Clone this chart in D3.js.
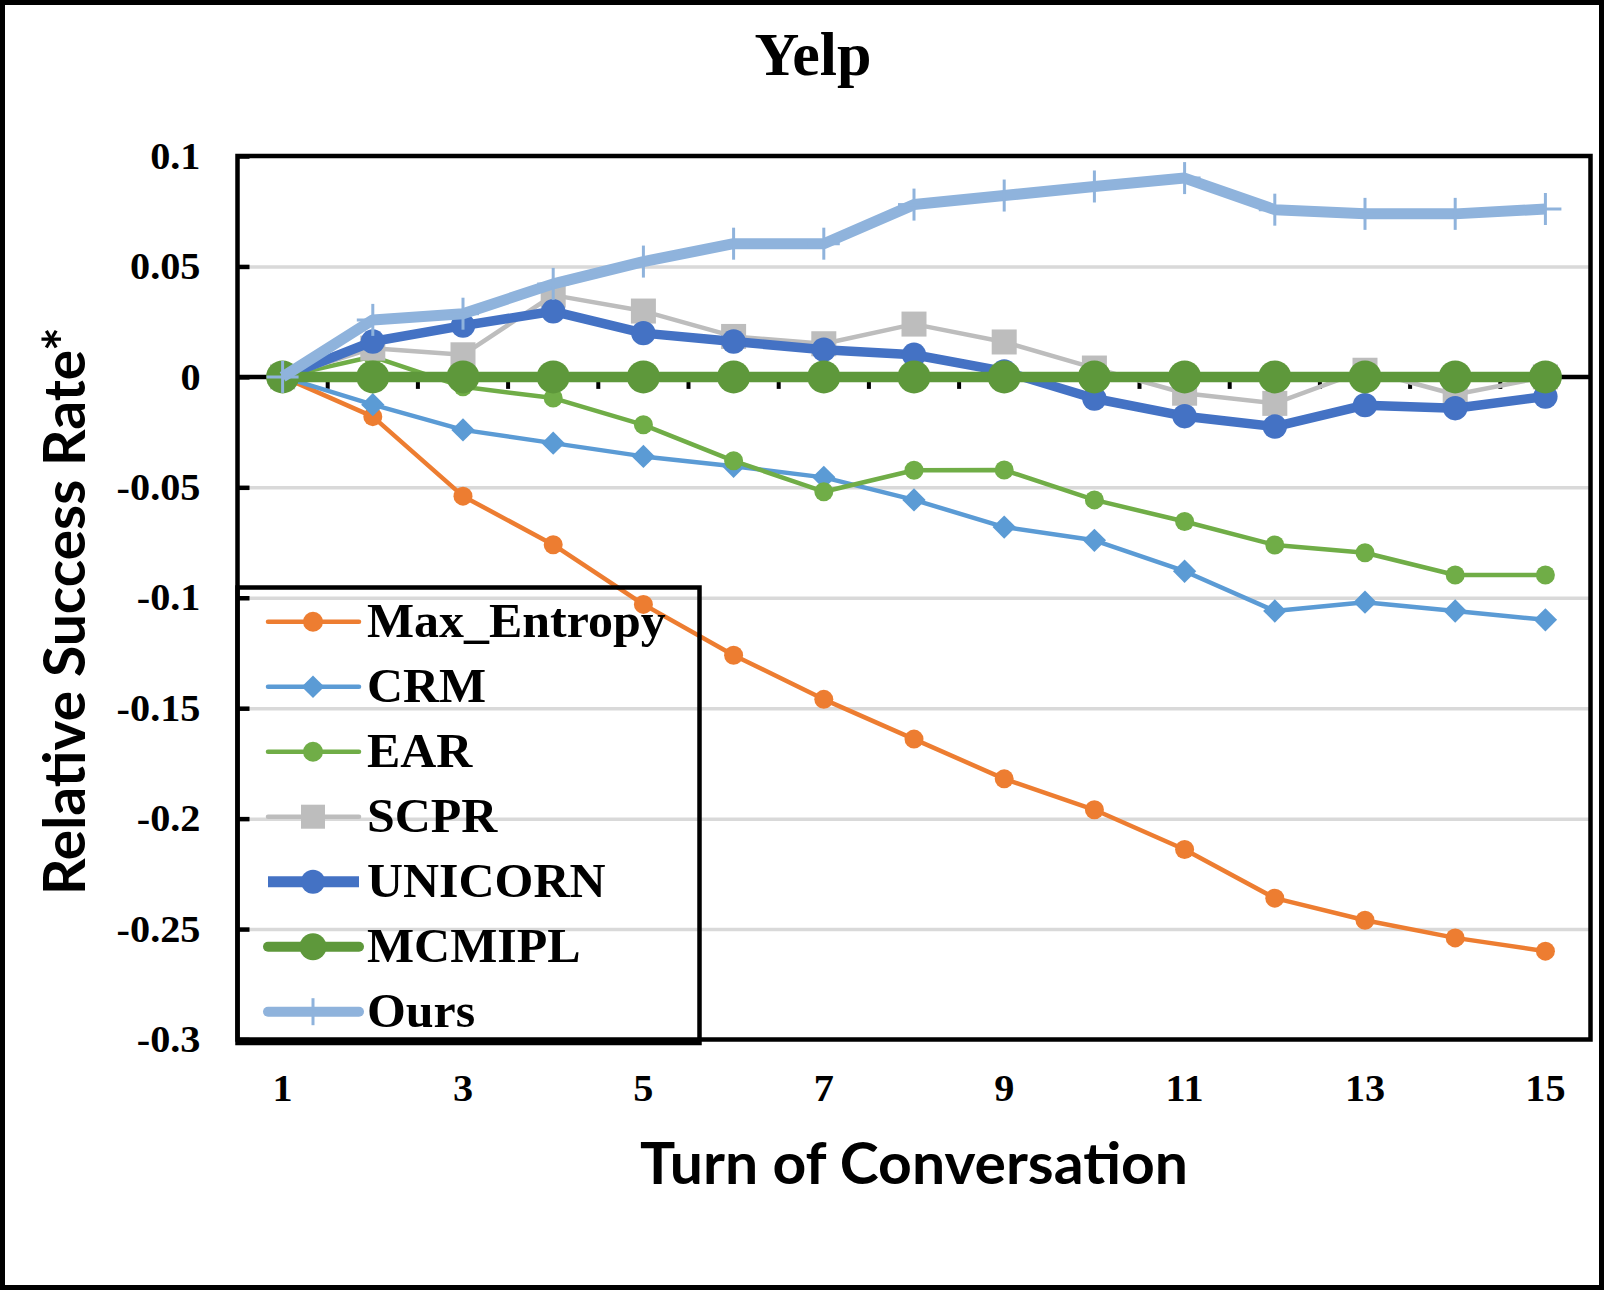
<!DOCTYPE html>
<html>
<head>
<meta charset="utf-8">
<script src="https://cdn.jsdelivr.net/npm/d3@7"></script>
<style>
  body { margin: 0; background: #fff; }
  svg { display: block; }
</style>
</head>
<body>
<div id="chart"></div>
<script>
// chart data
const turns = [1, 2, 3, 4, 5, 6, 7, 8, 9, 10, 11, 12, 13, 14, 15];
const shownTurns = [1, 3, 5, 7, 9, 11, 13, 15];
const yTicks = [0.1, 0.05, 0, -0.05, -0.1, -0.15, -0.2, -0.25, -0.3];
const gridTicks = [0.05, -0.05, -0.1, -0.15, -0.2, -0.25];

const maxEntropy = [0, -0.018, -0.054, -0.076, -0.103, -0.126, -0.146, -0.164, -0.182, -0.196, -0.214, -0.236, -0.246, -0.254, -0.26];
const crm        = [0, -0.0126, -0.024, -0.030, -0.036, -0.0405, -0.0455, -0.0557, -0.068, -0.074, -0.088, -0.106, -0.102, -0.106, -0.110];
const ear        = [0, 0.0092, -0.0045, -0.0096, -0.0217, -0.038, -0.052, -0.0423, -0.0422, -0.0557, -0.0655, -0.0761, -0.0796, -0.0897, -0.0897];
const scpr       = [0, 0.013, 0.010, 0.037, 0.0298, 0.0183, 0.015, 0.0239, 0.0158, 0.004, -0.0074, -0.012, 0.003, -0.008, 0];
const unicorn    = [0, 0.016, 0.0232, 0.0297, 0.0198, 0.016, 0.0123, 0.010, 0.0025, -0.0098, -0.0178, -0.0225, -0.0128, -0.0142, -0.0089];
const mcmipl     = [0, 0, 0, 0, 0, 0, 0, 0, 0, 0, 0, 0, 0, 0, 0];
const ours       = [0, 0.0258, 0.0286, 0.0421, 0.0522, 0.0603, 0.0603, 0.078, 0.0821, 0.0862, 0.090, 0.0757, 0.0738, 0.0738, 0.076];

const seriesNames = ["Max_Entropy", "CRM", "EAR", "SCPR", "UNICORN", "MCMIPL", "Ours"];
const seriesValues = [maxEntropy, crm, ear, scpr, unicorn, mcmipl, ours];

// look of each series (Excel style)
const styles = {
  "Max_Entropy": { color: "#ED7D31", width: 4.5, marker: "circle", size: 9.5, legSize: 10 },
  "CRM":         { color: "#5B9BD5", width: 4.5, marker: "diamond", size: 16.5, legSize: 16 },
  "EAR":         { color: "#70AD47", width: 4.5, marker: "circle", size: 9.5, legSize: 10 },
  "SCPR":        { color: "#BDBDBD", width: 4.5, marker: "square", size: 25, legSize: 24 },
  "UNICORN":     { color: "#4472C4", width: 9.5, marker: "circle", size: 12.2, legSize: 12 },
  "MCMIPL":      { color: "#5E983B", width: 10.5, marker: "circle", size: 16.5, legSize: 13.5 },
  "Ours":        { color: "#8FB3DC", width: 11, marker: "plus", size: 32, legSize: 27 }
};

const W = 1604, H = 1290;
const plot = { left: 237.5, right: 1590.5, top: 156, bottom: 1039.5 };
const serif = "'Liberation Serif', 'Times New Roman', serif";
const sans = "Lato, 'Open Sans', sans-serif";

// the serif text in the picture is drawn a little wider than plain Times
function widen(sel, k) {
  sel.each(function () {
    const w = this.getComputedTextLength();
    d3.select(this).attr("textLength", w * k).attr("lengthAdjust", "spacingAndGlyphs");
  });
}

const svg = d3.select("#chart").append("svg")
  .attr("width", W)
  .attr("height", H)
  .style("background", "#fff");

const x = d3.scaleBand().domain(turns).range([plot.left, plot.right]);
const cx = d => x(d) + x.bandwidth() / 2;
const y = d3.scaleLinear().domain([-0.3, 0.1]).range([plot.bottom, plot.top]);

// outer border of the figure
svg.append("rect")
  .attr("x", 2.5).attr("y", 2.5)
  .attr("width", W - 5).attr("height", H - 5)
  .attr("fill", "none").attr("stroke", "#000").attr("stroke-width", 5);

// title
svg.append("text")
  .attr("x", 813).attr("y", 75)
  .attr("text-anchor", "middle")
  .style("font-family", serif).style("font-weight", "bold").style("font-size", "62px")
  .text("Yelp");

// gridlines
svg.append("g")
  .attr("transform", `translate(${plot.left},0)`)
  .call(d3.axisLeft(y).tickValues(gridTicks).tickSize(-(plot.right - plot.left)).tickFormat(""))
  .call(g => g.select(".domain").remove())
  .call(g => g.selectAll("line").attr("stroke", "#D9D9D9").attr("stroke-width", 3.5));

// y tick labels
svg.append("g")
  .attr("transform", `translate(${plot.left},0)`)
  .call(d3.axisLeft(y).tickValues(yTicks).tickSize(0).tickPadding(37).tickFormat(d => String(d)))
  .call(g => g.select(".domain").remove())
  .call(g => g.selectAll("text")
    .style("font-family", serif).style("font-weight", "bold").style("font-size", "38px")
    .attr("fill", "#000")
    .call(widen, 1.06));

// small inner ticks on the value axis
svg.append("g")
  .attr("transform", `translate(${plot.left},0)`)
  .call(d3.axisRight(y).tickValues(yTicks).tickSize(12).tickFormat(""))
  .call(g => g.select(".domain").remove())
  .call(g => g.selectAll("line").attr("stroke", "#000").attr("stroke-width", 4.5));

// category axis crossing at zero
const y0 = y(0);
svg.append("line")
  .attr("x1", plot.left).attr("x2", plot.right)
  .attr("y1", y0).attr("y2", y0)
  .attr("stroke", "#000").attr("stroke-width", 4.5);
svg.append("g")
  .selectAll("line")
  .data(turns.slice(1))
  .join("line")
  .attr("x1", d => x(d)).attr("x2", d => x(d))
  .attr("y1", y0).attr("y2", y0 + 12)
  .attr("stroke", "#000").attr("stroke-width", 4);

// x tick labels
svg.append("g")
  .attr("transform", `translate(0,${plot.bottom})`)
  .call(d3.axisBottom(x).tickValues(shownTurns).tickSize(0).tickPadding(35))
  .call(g => g.select(".domain").remove())
  .call(g => g.selectAll("text")
    .style("font-family", serif).style("font-weight", "bold").style("font-size", "38px")
    .attr("fill", "#000")
    .call(widen, 1.06));

// axis titles
svg.append("text")
  .attr("x", 914).attr("y", 1184)
  .attr("text-anchor", "middle")
  .attr("textLength", 548).attr("lengthAdjust", "spacingAndGlyphs")
  .style("font-family", sans).style("font-weight", "bold").style("font-size", "57px")
  .text("Turn of Conversation");

svg.append("text")
  .attr("transform", "translate(85,611) rotate(-90)")
  .attr("text-anchor", "middle")
  .attr("textLength", 568).attr("lengthAdjust", "spacingAndGlyphs")
  .style("font-family", sans).style("font-weight", "bold").style("font-size", "57px")
  .text("Relative Success Rate*");

// marker drawing
function drawMarker(g, kind, size, color) {
  if (kind === "circle") {
    g.append("circle").attr("r", size).attr("fill", color);
  } else if (kind === "square") {
    g.append("rect").attr("x", -size / 2).attr("y", -size / 2)
      .attr("width", size).attr("height", size).attr("fill", color);
  } else if (kind === "diamond") {
    g.append("rect").attr("x", -size / 2).attr("y", -size / 2)
      .attr("width", size).attr("height", size).attr("fill", color)
      .attr("transform", "rotate(45)");
  } else if (kind === "plus") {
    g.append("line").attr("x1", 0).attr("x2", 0).attr("y1", -size / 2).attr("y2", size / 2)
      .attr("stroke", color).attr("stroke-width", 3);
    g.append("line").attr("x1", -size / 2).attr("x2", size / 2).attr("y1", 0).attr("y2", 0)
      .attr("stroke", color).attr("stroke-width", 3);
  }
}

const line = d3.line()
  .x((d, i) => cx(turns[i]))
  .y(d => y(d));

// series, drawn in Excel order so later ones sit on top
seriesNames.forEach((name, si) => {
  const st = styles[name];
  const vals = seriesValues[si];
  const g = svg.append("g");
  g.append("path")
    .datum(vals)
    .attr("fill", "none")
    .attr("stroke", st.color)
    .attr("stroke-width", st.width)
    .attr("stroke-linejoin", "round")
    .attr("d", line);
  vals.forEach((v, i) => {
    const m = g.append("g").attr("transform", `translate(${cx(turns[i])},${y(v)})`);
    drawMarker(m, st.marker, st.size, st.color);
  });
});

// plot frame
svg.append("rect")
  .attr("x", plot.left).attr("y", plot.top)
  .attr("width", plot.right - plot.left).attr("height", plot.bottom - plot.top)
  .attr("fill", "none").attr("stroke", "#000").attr("stroke-width", 4.5);

// legend (transparent box)
const legend = svg.append("g");
legend.append("rect")
  .attr("x", 237.5).attr("y", 587.5)
  .attr("width", 462).attr("height", 455.5)
  .attr("fill", "none").attr("stroke", "#000").attr("stroke-width", 4.5);

seriesNames.forEach((name, i) => {
  const st = styles[name];
  const ry = 621.7 + i * 65;
  const row = legend.append("g");
  row.append("line")
    .attr("x1", 268).attr("x2", 359)
    .attr("y1", ry).attr("y2", ry)
    .attr("stroke", st.color)
    .attr("stroke-width", name === "UNICORN" ? 11 : Math.min(st.width, 10))
    .attr("stroke-linecap", name === "UNICORN" ? "butt" : "round");
  const m = row.append("g").attr("transform", `translate(313,${ry})`);
  drawMarker(m, st.marker, st.legSize, st.color);
  row.append("text")
    .attr("x", 367).attr("y", ry + 15.5)
    .style("font-family", serif).style("font-weight", "bold").style("font-size", "48px")
    .text(name)
    .call(widen, 1.04);
});
</script>
</body>
</html>
